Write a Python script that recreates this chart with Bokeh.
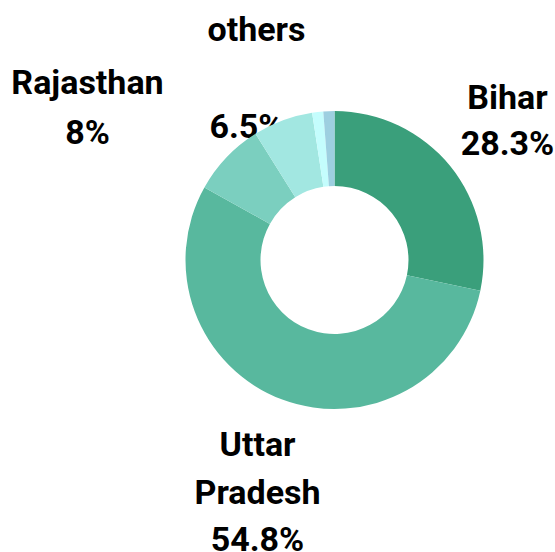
import math
from bokeh.plotting import figure
from bokeh.models import Range1d
from bokeh.core.properties import value
from bokeh.embed import file_html
from bokeh.resources import INLINE

# Data
states = ["Bihar", "Uttar Pradesh", "Rajasthan", "others", "misc1", "misc2"]
shares = [28.3, 54.8, 8.0, 6.5, 1.2, 1.2]
colors = ["#3a9f7b", "#58b89e", "#7bcfbf", "#a2e7e1", "#c4fdfd", "#9dcfe0"]

# Label lines and their anchor positions in the picture (layout)
label_lines = [
    ("Bihar", 507, 96), ("28.3%", 507, 142),
    ("Rajasthan", 87, 81), ("8%", 87, 131),
    ("others", 256, 28), ("6.5%", 246, 125),
    ("Uttar", 257, 443), ("Pradesh", 257, 491), ("54.8%", 257, 538),
]

W, H = 555, 552
def px(x):
    return x
def py(y):
    return H - y

p = figure(width=W, height=H, output_backend="svg", toolbar_location=None,
           x_range=Range1d(0, W), y_range=Range1d(0, H),
           min_border=0, outline_line_color=None)
p.axis.visible = False
p.grid.visible = False
p.background_fill_color = "white"
p.border_fill_color = "white"

# labels first (pie drawn over them)
p.text(x=[px(l[1]) for l in label_lines], y=[py(l[2]) for l in label_lines],
       text=[l[0] for l in label_lines], text_align="center",
       text_baseline="alphabetic", text_font=value("Roboto"),
       text_font_style="bold", text_font_size="34px", text_color="#000000")

cx, cy = px(334), py(259.5)
total = sum(shares)
starts, ends = [], []
cum = 0.0
for s in shares:
    starts.append(math.pi / 2 - 2 * math.pi * cum / total)
    cum += s
    ends.append(math.pi / 2 - 2 * math.pi * cum / total)

p.annular_wedge(x=[cx] * len(shares), y=[cy] * len(shares),
                inner_radius=74, outer_radius=149,
                inner_radius_units="screen", outer_radius_units="screen",
                start_angle=starts, end_angle=ends, direction="clock",
                fill_color=colors, line_color=None)

open("out.html", "w").write(file_html(p, INLINE))
